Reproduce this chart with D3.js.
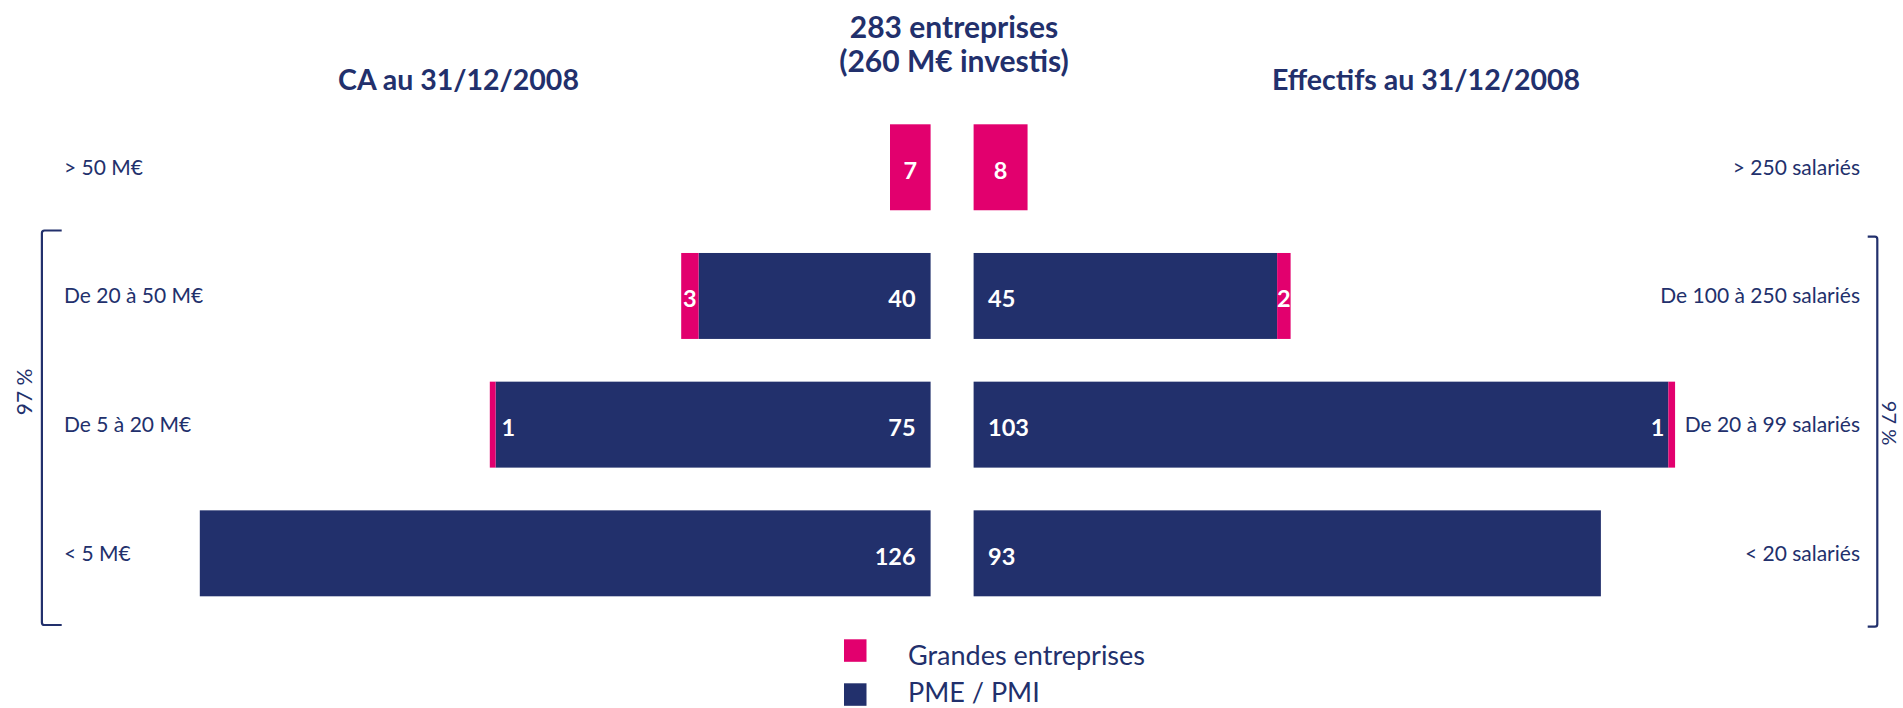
<!DOCTYPE html>
<html><head><meta charset="utf-8">
<script src="https://cdn.jsdelivr.net/npm/d3@7"></script>
<style>
html,body{margin:0;padding:0;background:#fff;}
svg{display:block;font-family:Lato,"Open Sans",sans-serif;}
</style></head>
<body>
<svg id="chart" width="1903" height="708"></svg>
<script>
// ---- data ----
const leftCategories  = ["> 50 M€", "De 20 à 50 M€", "De 5 à 20 M€", "< 5 M€"];
const rightCategories = ["> 250 salariés", "De 100 à 250 salariés", "De 20 à 99 salariés", "< 20 salariés"];
const leftGrandes  = [7, 3, 1, 0];
const leftPME      = [0, 40, 75, 126];
const rightGrandes = [8, 2, 1, 0];
const rightPME     = [0, 45, 103, 93];
const leftTitle   = "CA au 31/12/2008";
const rightTitle  = "Effectifs au 31/12/2008";
const centerTitle = ["283 entreprises", "(260 M€ investis)"];
const bracketLabel = "97 %";
const legendLabels = ["Grandes entreprises", "PME / PMI"];

// ---- styles ----
const NAVY = "#22306C", PINK = "#E2006E";
const svg = d3.select("#chart");

const y = d3.scaleBand().domain(d3.range(4)).range([124.3, 596.3]).paddingInner(0.332).paddingOuter(0);
const bw = y.bandwidth();
const xL = d3.scaleLinear().domain([0, 130]).range([930.6, 930.6 - 130 * 5.8]);
const xR = d3.scaleLinear().domain([0, 110]).range([973.6, 973.6 + 110 * 6.745]);

const rows = d3.range(4).map(i => ({i, lg: leftGrandes[i], lp: leftPME[i], rg: rightGrandes[i], rp: rightPME[i]}));

// left PME bars
svg.append("g").selectAll("rect").data(rows.filter(d => d.lp > 0)).join("rect")
  .attr("x", d => xL(d.lp)).attr("y", d => y(d.i))
  .attr("width", d => xL(0) - xL(d.lp)).attr("height", bw).attr("fill", NAVY);
// left GE bars
svg.append("g").selectAll("rect").data(rows.filter(d => d.lg > 0)).join("rect")
  .attr("x", d => xL(d.lp + d.lg)).attr("y", d => y(d.i))
  .attr("width", d => xL(d.lp) - xL(d.lp + d.lg)).attr("height", bw).attr("fill", PINK);
// right PME bars
svg.append("g").selectAll("rect").data(rows.filter(d => d.rp > 0)).join("rect")
  .attr("x", xR(0)).attr("y", d => y(d.i))
  .attr("width", d => xR(d.rp) - xR(0)).attr("height", bw).attr("fill", NAVY);
// right GE bars
svg.append("g").selectAll("rect").data(rows.filter(d => d.rg > 0)).join("rect")
  .attr("x", d => xR(d.rp)).attr("y", d => y(d.i))
  .attr("width", d => xR(d.rp + d.rg) - xR(d.rp)).attr("height", bw).attr("fill", PINK);

// value labels
const vl = svg.append("g").attr("fill", "#fff").attr("font-weight", 700).attr("font-size", 23.5);
const base = i => y(i) + bw / 2 + 11.5;
rows.forEach(d => {
  if (d.lp > 0) vl.append("text").attr("x", xL(0) - 15).attr("y", base(d.i)).attr("text-anchor", "end").text(d.lp);
  if (d.lg > 0) {
    if (d.lg >= 2) vl.append("text").attr("x", (xL(d.lp) + xL(d.lp + d.lg)) / 2).attr("y", base(d.i)).attr("text-anchor", "middle").text(d.lg);
    else vl.append("text").attr("x", xL(d.lp) + 6).attr("y", base(d.i)).attr("text-anchor", "start").text(d.lg);
  }
  if (d.rp > 0) vl.append("text").attr("x", xR(0) + 14.5).attr("y", base(d.i)).attr("text-anchor", "start").text(d.rp);
  if (d.rg > 0) {
    if (d.rg >= 2) vl.append("text").attr("x", (xR(d.rp) + xR(d.rp + d.rg)) / 2).attr("y", base(d.i)).attr("text-anchor", "middle").text(d.rg);
    else vl.append("text").attr("x", xR(d.rp) - 4).attr("y", base(d.i)).attr("text-anchor", "end").text(d.rg);
  }
});

// category labels
const cl = svg.append("g").attr("fill", NAVY).attr("font-size", 21);
cl.selectAll("text.l").data(leftCategories).join("text").attr("class", "l")
  .attr("x", 64).attr("y", (d, i) => y(i) + bw / 2 + 7.5).text(d => d);
cl.selectAll("text.r").data(rightCategories).join("text").attr("class", "r")
  .attr("x", 1860).attr("y", (d, i) => y(i) + bw / 2 + 7.5).attr("text-anchor", "end").text(d => d);

// titles
const tl = svg.append("g").attr("fill", NAVY).attr("font-weight", 700).attr("text-anchor", "middle");
tl.append("text").attr("x", 458.5).attr("y", 90).attr("font-size", 28.5).text(leftTitle);
tl.append("text").attr("x", 1426).attr("y", 90).attr("font-size", 28.5).text(rightTitle);
tl.append("text").attr("x", 954).attr("y", 38.3).attr("font-size", 30).text(centerTitle[0]);
tl.append("text").attr("x", 954).attr("y", 71.7).attr("font-size", 30).text(centerTitle[1]);

// brackets
const bTop = y(1) - 22.5, bBot = y(3) + bw + 28.7;
svg.append("path").attr("fill", "none").attr("stroke", NAVY).attr("stroke-width", 2.2)
  .attr("d", `M61.7,${bTop}H44.5q-2.6,0,-2.6,2.6V${bBot - 2.6}q0,2.6,2.6,2.6H61.7`);
const bTopR = y(1) - 16.3, bBotR = y(3) + bw + 30.4;
svg.append("path").attr("fill", "none").attr("stroke", NAVY).attr("stroke-width", 2.2)
  .attr("d", `M1867.7,${bTopR}H1874.8q2.5,0,2.5,2.5V${bBotR - 2.5}q0,2.5,-2.5,2.5H1867.7`);
svg.append("text").attr("fill", NAVY).attr("font-size", 21).attr("text-anchor", "middle")
  .attr("transform", "translate(32,392) rotate(-90)").text(bracketLabel);
svg.append("text").attr("fill", NAVY).attr("font-size", 20).attr("text-anchor", "middle")
  .attr("transform", "translate(1881.5,423) rotate(90)").text(bracketLabel);

// legend
const lg = svg.append("g");
const lgColors = [PINK, NAVY], lgY = [639.3, 683.3], lgBase = [664.5, 702];
lg.selectAll("rect").data(legendLabels).join("rect")
  .attr("x", 844).attr("y", (d, i) => lgY[i]).attr("width", 22.5).attr("height", 22.5).attr("fill", (d, i) => lgColors[i]);
lg.selectAll("text").data(legendLabels).join("text")
  .attr("x", 908).attr("y", (d, i) => lgBase[i]).attr("fill", NAVY).attr("font-size", 27).text(d => d);
</script>
</body></html>
